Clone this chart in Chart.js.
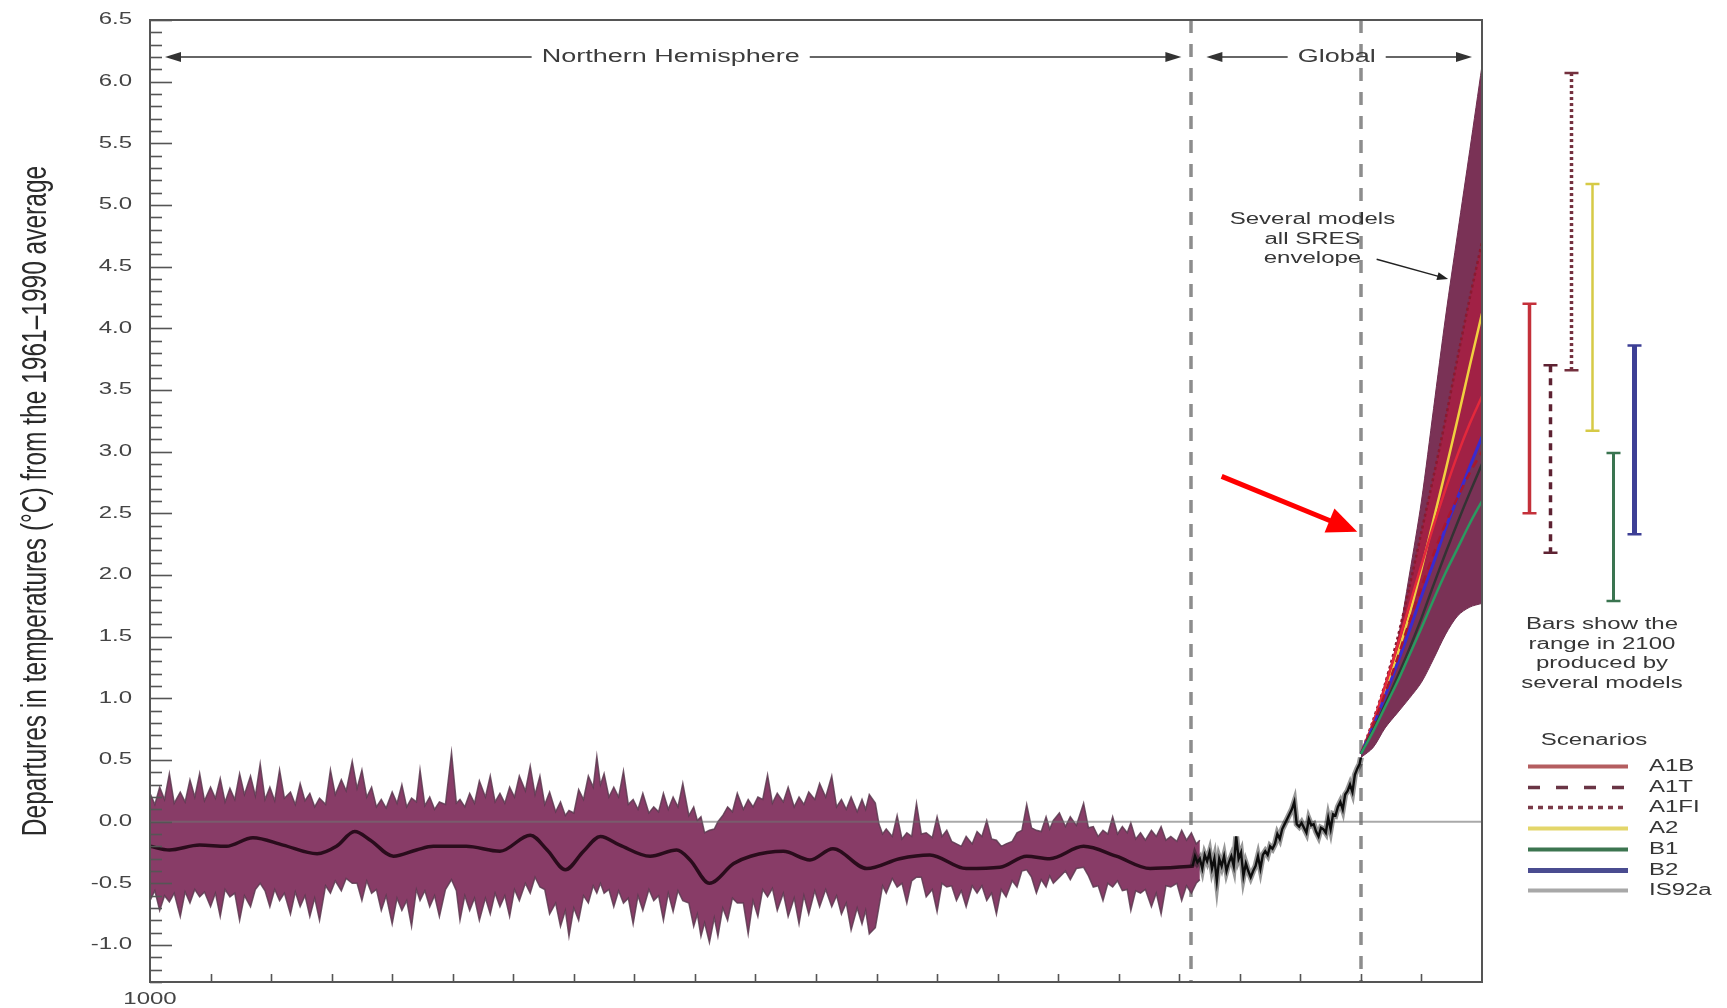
<!DOCTYPE html>
<html>
<head>
<meta charset="utf-8">
<title>Temperature departures 1000–2100</title>
<script src="https://cdn.jsdelivr.net/npm/chart.js@4.4.1/dist/chart.umd.min.js"></script>
<style>
  html, body { margin: 0; padding: 0; background: #fff; overflow: hidden; }
  #wrap { width: 1727px; height: 1008px; position: relative; }
  canvas { display: block; }
</style>
</head>
<body>
<div id="wrap"><canvas id="chart" width="1727" height="1008"></canvas></div>
<script>
// ---------------------------------------------------------------
// Data
// ---------------------------------------------------------------
const yTickLabels = ['-1.0','-0.5','0.0','0.5','1.0','1.5','2.0','2.5','3.0','3.5','4.0','4.5','5.0','5.5','6.0','6.5'];
const xTickLabels = ['1000'];
const dividerYears = [1860, 2000];
const regions = [['Northern Hemisphere', 1000, 1860], ['Global', 1860, 2100]];

// Northern Hemisphere reconstruction: uncertainty range, outer excursions
const bandYears = [1000,1008,1016,1025,1033,1041,1050,1058,1066,1074,1083,1091,1099,1107,1116,1124,1132,1140,1149,1158,
  1167,1175,1183,1191,1200,1208,1216,1223,1231,1239,1249,1256,1264,1272,1281,1289,1297,1305,1314,1322,
  1330,1339,1346,1354,1362,1369,1375,1383,1391,1399,1407,1416,1424,1432,1440,1449,1455,1462,1469,1477,
  1485,1494,1502,1510,1518,1527,1536,1544,1553,1563,1571,1579,1588,1594,1599,1602,1608,1617,1625,1633,
  1641,1650,1658,1666,1674,1683,1691,1699,1707,1716,1724,1732,1740,1746,1751,1760,1771,1779,1787,1795,
  1803,1810,1818,1827,1835,1843,1852,1860,1867];
const bandUpper = [0.23,0.28,0.39,0.24,0.34,0.39,0.28,0.35,0.27,0.39,0.37,0.47,0.28,0.42,0.24,0.31,0.23,0.19,0.42,0.34,
  0.49,0.42,0.28,0.18,0.24,0.30,0.19,0.42,0.20,0.16,0.56,0.18,0.23,0.33,0.37,0.23,0.28,0.37,0.45,0.37,
  0.24,0.16,0.09,0.26,0.37,0.53,0.39,0.28,0.41,0.18,0.23,0.12,0.23,0.20,0.31,0.12,0.04,-0.07,0.00,0.12,
  0.23,0.18,0.20,0.38,0.23,0.28,0.20,0.24,0.31,0.37,0.18,0.20,0.18,0.22,0.15,-0.02,-0.06,0.05,-0.09,0.15,
  -0.09,0.04,-0.07,-0.18,-0.12,-0.08,0.01,-0.15,-0.18,-0.09,0.14,-0.07,0.04,0.01,0.07,0.04,0.15,-0.04,-0.07,0.04,
  -0.04,-0.01,-0.09,-0.07,-0.04,-0.12,-0.07,-0.09,-0.15];
const bandLower = [-0.64,-0.72,-0.65,-0.77,-0.66,-0.61,-0.69,-0.77,-0.61,-0.80,-0.69,-0.50,-0.69,-0.64,-0.75,-0.69,-0.77,-0.80,-0.58,-0.56,
  -0.50,-0.64,-0.58,-0.72,-0.83,-0.72,-0.85,-0.64,-0.69,-0.77,-0.47,-0.80,-0.72,-0.80,-0.75,-0.69,-0.77,-0.64,-0.58,-0.53,
  -0.75,-0.85,-0.93,-0.80,-0.66,-0.58,-0.58,-0.69,-0.66,-0.83,-0.72,-0.64,-0.80,-0.73,-0.64,-0.85,-0.93,-0.98,-0.93,-0.80,
  -0.66,-0.91,-0.77,-0.61,-0.72,-0.77,-0.83,-0.75,-0.69,-0.69,-0.75,-0.88,-0.83,-0.91,-0.86,-0.69,-0.58,-0.53,-0.66,-0.45,
  -0.61,-0.73,-0.53,-0.64,-0.69,-0.58,-0.64,-0.75,-0.61,-0.53,-0.39,-0.58,-0.53,-0.50,-0.45,-0.47,-0.37,-0.53,-0.64,-0.53,
  -0.56,-0.72,-0.58,-0.69,-0.75,-0.53,-0.64,-0.58,-0.47];

// Northern Hemisphere reconstruction: uncertainty range, between the excursions
const bandInnerYears = [1004,1012,1020,1029,1037,1045,1054,1062,1070,1078,1087,1095,1103,1111,1120,1128,1136,1145,1153,1162,
  1171,1179,1187,1195,1204,1212,1220,1227,1235,1244,1253,1260,1268,1277,1285,1293,1301,1310,1318,1326,
  1335,1343,1350,1358,1366,1372,1379,1387,1395,1403,1412,1420,1428,1436,1445,1452,1458,1466,1473,1481,
  1490,1498,1506,1514,1523,1532,1540,1549,1558,1567,1575,1584,1591,1605,1613,1621,1629,1637,1646,1654,
  1662,1670,1679,1687,1695,1703,1712,1720,1728,1736,1743,1756,1765,1775,1783,1791,1799,1807,1814,1822,
  1831,1839,1848,1856,1864];
const bandInnerUpper = [0.14,0.18,0.15,0.16,0.20,0.17,0.19,0.16,0.18,0.22,0.21,0.18,0.17,0.19,0.14,0.17,0.12,0.14,0.22,0.25,
  0.27,0.20,0.12,0.11,0.15,0.12,0.16,0.13,0.10,0.14,0.15,0.12,0.15,0.20,0.16,0.15,0.20,0.25,0.22,0.14,
  0.08,0.05,0.07,0.18,0.28,0.30,0.20,0.20,0.14,0.10,0.07,0.08,0.10,0.12,0.05,0.01,-0.09,-0.06,0.05,0.08,
  0.10,0.12,0.18,0.15,0.16,0.12,0.14,0.18,0.20,0.12,0.10,0.08,0.10,-0.10,-0.12,-0.14,-0.12,-0.10,-0.13,-0.12,
  -0.16,-0.20,-0.18,-0.12,-0.14,-0.20,-0.16,-0.07,-0.05,-0.08,-0.06,-0.04,-0.03,-0.05,-0.12,-0.10,-0.10,-0.09,-0.14,-0.15,
  -0.12,-0.15,-0.16,-0.15,-0.18];
const bandInnerLower = [-0.56,-0.60,-0.58,-0.57,-0.55,-0.57,-0.58,-0.55,-0.58,-0.60,-0.55,-0.56,-0.55,-0.58,-0.57,-0.60,-0.62,-0.52,-0.48,-0.46,
  -0.50,-0.48,-0.55,-0.60,-0.62,-0.64,-0.55,-0.56,-0.60,-0.55,-0.56,-0.60,-0.62,-0.62,-0.58,-0.60,-0.55,-0.50,-0.45,-0.55,
  -0.66,-0.72,-0.70,-0.60,-0.52,-0.50,-0.55,-0.56,-0.62,-0.60,-0.55,-0.60,-0.58,-0.56,-0.66,-0.75,-0.82,-0.78,-0.70,-0.62,
  -0.66,-0.64,-0.55,-0.54,-0.58,-0.62,-0.60,-0.56,-0.55,-0.60,-0.66,-0.70,-0.72,-0.52,-0.46,-0.50,-0.48,-0.45,-0.55,-0.50,
  -0.52,-0.56,-0.52,-0.52,-0.58,-0.55,-0.48,-0.40,-0.45,-0.47,-0.44,-0.40,-0.38,-0.44,-0.52,-0.50,-0.48,-0.55,-0.56,-0.55,
  -0.58,-0.52,-0.50,-0.52,-0.50];

// Northern Hemisphere reconstruction: smoothed series
const nhSmoothYears = [1000,1016,1041,1063,1085,1110,1138,1154,1169,1182,1201,1220,1234,1261,1289,1314,1328,1343,1358,1372,
  1388,1413,1435,1446,1462,1482,1496,1523,1545,1564,1592,1619,1644,1674,1702,1724,1743,1771,1798,1826,1862];
const nhSmooth = [-0.20,-0.23,-0.19,-0.20,-0.13,-0.19,-0.26,-0.20,-0.08,-0.15,-0.28,-0.23,-0.20,-0.20,-0.24,-0.11,-0.23,-0.39,-0.24,-0.12,
  -0.19,-0.28,-0.23,-0.31,-0.50,-0.34,-0.28,-0.24,-0.31,-0.22,-0.38,-0.30,-0.27,-0.38,-0.37,-0.28,-0.30,-0.20,-0.28,-0.38,-0.36];

// Global instrumental record
const instYears = [1861,1863,1865,1867,1869,1871,1873,1875,1877,1879,1881,1883,1885,1887,1889,1891,1893,1895,1897,1899,
  1901,1903,1905,1907,1909,1911,1913,1915,1917,1919,1921,1923,1925,1927,1929,1931,1933,1935,1937,1939,
  1941,1943,1945,1947,1949,1951,1953,1955,1957,1959,1961,1963,1965,1967,1969,1971,1973,1975,1977,1979,
  1981,1983,1985,1987,1989,1991,1993,1995,1997,1999,2000];
const instValues = [-0.36,-0.28,-0.33,-0.30,-0.38,-0.27,-0.32,-0.25,-0.38,-0.30,-0.48,-0.30,-0.36,-0.28,-0.40,-0.33,-0.28,-0.36,-0.12,-0.30,
  -0.25,-0.44,-0.34,-0.40,-0.45,-0.40,-0.36,-0.28,-0.38,-0.27,-0.24,-0.27,-0.20,-0.22,-0.18,-0.10,-0.14,-0.06,-0.02,0.02,
  0.06,0.10,0.16,-0.02,-0.04,-0.01,-0.05,-0.09,0.02,-0.03,-0.02,-0.08,-0.12,-0.05,-0.06,-0.09,0.03,-0.06,0.06,0.05,
  0.12,0.16,0.10,0.22,0.25,0.30,0.24,0.38,0.43,0.47,0.52];

// Projections 2000–2100
const projYears = [2000,2010,2020,2030,2040,2050,2060,2070,2080,2090,2100];
const envelopeHigh = [0.55,0.80,1.12,1.45,2.00,2.60,3.35,4.10,4.78,5.45,6.13];
const envelopeLow  = [0.52,0.60,0.76,0.88,1.00,1.13,1.32,1.52,1.67,1.74,1.77];
const scenarioA1FI = [0.55,0.82,1.12,1.48,1.90,2.35,2.80,3.27,3.77,4.25,4.70];
const scenarioA2   = [0.55,0.79,1.05,1.35,1.68,2.05,2.45,2.85,3.27,3.70,4.12];
const scenarioA1B  = [0.55,0.80,1.10,1.42,1.75,2.08,2.40,2.70,2.98,3.23,3.45];
const scenarioB2   = [0.55,0.77,1.02,1.28,1.55,1.83,2.10,2.38,2.63,2.88,3.12];
const scenarioA1T  = [0.55,0.78,1.04,1.32,1.62,1.90,2.17,2.42,2.63,2.83,3.00];
const scenarioIS92a= [0.55,0.74,0.95,1.17,1.40,1.65,1.92,2.18,2.43,2.67,2.90];
const scenarioB1   = [0.55,0.73,0.93,1.13,1.35,1.57,1.80,2.02,2.22,2.42,2.60];

// Range in 2100 produced by several models
const rangeNames = ['A1B','A1T','A1FI','A2','B1','B2'];
const rangeLow   = [2.50, 2.18, 3.66, 3.17, 1.79, 2.33];
const rangeHigh  = [4.20, 3.70, 6.07, 5.17, 2.99, 3.86];

const legendNames = ['A1B','A1T','A1FI','A2','B1','B2','IS92a'];
const envelopeNote = ['Several models', 'all SRES', 'envelope'];
const barsNote = ['Bars show the', 'range in 2100', 'produced by', 'several models'];

// ---------------------------------------------------------------
// Styles
// ---------------------------------------------------------------
const FONT = '"Liberation Sans", Arial, Helvetica, sans-serif';
const SX = 1.5;                 // horizontal stretch of the lettering
const INK = '#363636';

const scenarioStyle = {
  A1B:   { line: '#e3283c', bar: '#c4303a', legend: '#b45e60', dash: [],     barWidth: 3.5, legendWidth: 4 },
  A1T:   { line: '#a8182e', bar: '#5e2232', legend: '#6a3545', dash: [8, 6],  barWidth: 3.5, legendWidth: 3.5, legendDash: [12, 16] },
  A1FI:  { line: '#8a1a30', bar: '#74303e', legend: '#7a3a48', dash: [3, 3],  barWidth: 3.5, legendWidth: 3.5, legendDash: [5, 5] },
  A2:    { line: '#f0d040', bar: '#d6ca46', legend: '#e3d66a', dash: [],     barWidth: 2.5, legendWidth: 4 },
  B1:    { line: '#2a9a60', bar: '#3a7450', legend: '#3c7550', dash: [],     barWidth: 3,   legendWidth: 4 },
  B2:    { line: '#3a2ad0', bar: '#3d3f95', legend: '#4a4c90', dash: [],     barWidth: 5,   legendWidth: 5 },
  IS92a: { line: '#333333', bar: '#999999', legend: '#a8a8a8', dash: [],     barWidth: 3,   legendWidth: 4 }
};

// ---------------------------------------------------------------
// Datasets
// ---------------------------------------------------------------
const pts = (xs, ys) => xs.map((v, i) => ({ x: v, y: ys[i] }));
const byYear = (a, b) => a.x - b.x;
const bandUpperPts = pts(bandYears, bandUpper).concat(pts(bandInnerYears, bandInnerUpper)).sort(byYear);
const bandLowerPts = pts(bandYears, bandLower).concat(pts(bandInnerYears, bandInnerLower)).sort(byYear);

const datasets = [];
function add(ds) {
  datasets.push(Object.assign({ pointRadius: 0, pointHoverRadius: 0, borderWidth: 0, fill: false, tension: 0 }, ds));
  return datasets.length - 1;
}

const iBandUp = add({ label: 'NH range upper', data: bandUpperPts,
  borderColor: 'rgba(92,58,80,0.85)', borderWidth: 1.5, backgroundColor: 'rgb(136,60,103)', order: 30 });
const iBandLow = add({ label: 'NH range lower', data: bandLowerPts,
  borderColor: 'rgba(92,58,80,0.85)', borderWidth: 1.5, order: 29 });
datasets[iBandUp].fill = { target: iBandLow };

const iEnvUp = add({ label: 'SRES envelope upper', data: pts(projYears, envelopeHigh),
  borderColor: 'rgba(110,45,78,1)', borderWidth: 1, backgroundColor: 'rgb(122,50,86)', tension: 0.3, order: 28 });
const iEnvLow = add({ label: 'SRES envelope lower', data: pts(projYears, envelopeLow),
  borderColor: 'rgba(110,45,78,1)', borderWidth: 1, tension: 0.3, order: 27 });
datasets[iEnvUp].fill = { target: iEnvLow };

add({ label: 'zero', data: [{ x: 1000, y: 0 }, { x: 2100, y: 0 }],
  borderColor: 'rgba(112,112,112,0.6)', borderWidth: 2, order: 25 });

const scenarioSeries = { A1FI: scenarioA1FI, A2: scenarioA2, A1B: scenarioA1B, B2: scenarioB2,
  A1T: scenarioA1T, IS92a: scenarioIS92a, B1: scenarioB1 };
const scenarioIdx = {};
let ord = 20;
Object.keys(scenarioSeries).forEach(name => {
  const st = scenarioStyle[name];
  scenarioIdx[name] = add({ label: name, data: pts(projYears, scenarioSeries[name]),
    borderColor: st.line, borderWidth: name === 'B2' ? 3 : 2.5, borderDash: st.dash,
    tension: 0.3, order: ord-- });
});
// red core of the envelope between the high and middle scenarios
datasets[scenarioIdx.A1FI].fill = { target: scenarioIdx.B2 };
datasets[scenarioIdx.A1FI].backgroundColor = 'rgba(168,30,66,0.85)';
datasets[scenarioIdx.A1FI].order = 26;

add({ label: 'instrumental halo', data: pts(instYears, instValues),
  borderColor: 'rgba(25,25,25,0.45)', borderWidth: 6, order: 6 });
add({ label: 'Global instrumental', data: pts(instYears, instValues),
  borderColor: '#0d0d0d', borderWidth: 2.4, order: 4 });
add({ label: 'NH smoothed', data: pts(nhSmoothYears, nhSmooth),
  borderColor: '#2a0c1c', borderWidth: 3.5, cubicInterpolationMode: 'monotone', order: 5 });

// ---------------------------------------------------------------
// Drawing helpers
// ---------------------------------------------------------------
function text(ctx, str, x, y, size, opts = {}) {
  ctx.save();
  ctx.font = `${opts.weight || 'normal'} ${size}px ${FONT}`;
  ctx.fillStyle = opts.color || INK;
  ctx.textAlign = opts.align || 'center';
  ctx.textBaseline = opts.baseline || 'middle';
  ctx.translate(x, y);
  ctx.scale(opts.sx || SX, 1);
  ctx.fillText(str, 0, 0);
  ctx.restore();
}
function textWidth(ctx, str, size) {
  ctx.save();
  ctx.font = `normal ${size}px ${FONT}`;
  const w = ctx.measureText(str).width * SX;
  ctx.restore();
  return w;
}
function arrow(ctx, x0, y0, x1, y1, head, half, color, width) {
  const a = Math.atan2(y1 - y0, x1 - x0);
  const c = Math.cos(a), s = Math.sin(a);
  const bx = x1 - c * head, by = y1 - s * head;
  ctx.save();
  ctx.strokeStyle = color; ctx.fillStyle = color; ctx.lineWidth = width; ctx.setLineDash([]);
  ctx.beginPath(); ctx.moveTo(x0, y0); ctx.lineTo(bx + c * 2, by + s * 2); ctx.stroke();
  ctx.beginPath();
  ctx.moveTo(x1, y1);
  ctx.lineTo(bx + s * half, by - c * half);
  ctx.lineTo(bx - s * half, by + c * half);
  ctx.closePath(); ctx.fill();
  ctx.restore();
}

// ---------------------------------------------------------------
// Frame, axes, annotations, range bars and legend
// ---------------------------------------------------------------
const decor = {
  id: 'decor',
  beforeDatasetsDraw(chart) {
    const { ctx, chartArea: a, scales: { x } } = chart;
    ctx.save();
    ctx.strokeStyle = '#8d8d8d';
    ctx.lineWidth = 3.5;
    ctx.setLineDash([13, 11]);
    dividerYears.forEach(yr => {
      const px = Math.round(x.getPixelForValue(yr));
      ctx.beginPath(); ctx.moveTo(px, a.top); ctx.lineTo(px, a.bottom); ctx.stroke();
    });
    ctx.restore();
  },
  afterDatasetsDraw(chart) {
    const { ctx, chartArea: a, scales: { x, y } } = chart;

    // frame
    ctx.save();
    ctx.strokeStyle = '#555';
    ctx.lineWidth = 2;
    ctx.strokeRect(a.left, a.top, a.right - a.left, a.bottom - a.top);

    // y ticks (inward): minor every 0.1, major every 0.5
    ctx.lineWidth = 1.6;
    ctx.strokeStyle = '#555';
    for (let k = Math.ceil(y.min * 10); k <= Math.floor(y.max * 10); k++) {
      const py = Math.round(y.getPixelForValue(k / 10)) + 0.5;
      const len = (k % 5 === 0) ? 22 : 12;
      ctx.beginPath(); ctx.moveTo(a.left, py); ctx.lineTo(a.left + len, py); ctx.stroke();
    }
    // x ticks (inward) every 50 years
    for (let yr = x.min + 50; yr < x.max; yr += 50) {
      const px = Math.round(x.getPixelForValue(yr)) + 0.5;
      ctx.beginPath(); ctx.moveTo(px, a.bottom); ctx.lineTo(px, a.bottom - 8); ctx.stroke();
    }
    ctx.restore();

    // tick labels
    yTickLabels.forEach(lbl => {
      text(ctx, lbl, a.left - 18, y.getPixelForValue(parseFloat(lbl)), 16, { align: 'right', color: '#444' });
    });
    xTickLabels.forEach(lbl => {
      text(ctx, lbl, x.getPixelForValue(parseFloat(lbl)), a.bottom + 18, 16, { color: '#444' });
    });

    // y axis title
    ctx.save();
    ctx.translate(36, (a.top + a.bottom) / 2);
    ctx.scale(1.45, 1);
    ctx.rotate(-Math.PI / 2);
    ctx.font = `normal 24.5px ${FONT}`;
    ctx.fillStyle = '#2a2a2a';
    ctx.textAlign = 'center';
    ctx.textBaseline = 'middle';
    ctx.fillText('Departures in temperatures (°C) from the 1961–1990 average', 0, 0);
    ctx.restore();

    // period labels with arrows
    const ry = y.getPixelForValue(6.20);
    regions.forEach(([label, from, to]) => {
      const p0 = x.getPixelForValue(from), p1 = x.getPixelForValue(to);
      const cx = (p0 + p1) / 2;
      const tw = textWidth(ctx, label, 18);
      text(ctx, label, cx, ry, 18, { color: '#3c3c3c' });
      arrow(ctx, cx - tw / 2 - 10, ry, p0 + 15, ry, 16, 5, '#333', 1.5);
      arrow(ctx, cx + tw / 2 + 10, ry, p1 - 10, ry, 16, 5, '#333', 1.5);
    });

    // envelope note
    const nx = x.getPixelForValue(1960);
    envelopeNote.forEach((line, i) => {
      text(ctx, line, nx, y.getPixelForValue(4.88) + i * 19.5, 16);
    });
    arrow(ctx, x.getPixelForValue(2013), y.getPixelForValue(4.56),
      x.getPixelForValue(2072), y.getPixelForValue(4.40), 11, 4, '#222', 1.5);

    // red pointer
    arrow(ctx, x.getPixelForValue(1885), y.getPixelForValue(2.80),
      x.getPixelForValue(1997), y.getPixelForValue(2.35), 30, 13, '#ff0000', 5);

    // range bars for 2100
    rangeNames.forEach((name, i) => {
      const st = scenarioStyle[name];
      const bx = Math.round(a.right + 47 + i * 20.9) + 0.5;
      const yTop = y.getPixelForValue(rangeHigh[i]);
      const yBot = y.getPixelForValue(rangeLow[i]);
      ctx.save();
      ctx.strokeStyle = st.bar;
      ctx.lineWidth = st.barWidth;
      ctx.setLineDash(st.dash.length ? (name === 'A1FI' ? [3, 3] : [7, 6]) : []);
      ctx.beginPath(); ctx.moveTo(bx, yTop); ctx.lineTo(bx, yBot); ctx.stroke();
      ctx.setLineDash([]);
      ctx.lineWidth = 2.5;
      ctx.beginPath();
      ctx.moveTo(bx - 7, yTop); ctx.lineTo(bx + 7, yTop);
      ctx.moveTo(bx - 7, yBot); ctx.lineTo(bx + 7, yBot);
      ctx.stroke();
      ctx.restore();
    });

    // note under the bars
    const noteX = a.right + 120;
    barsNote.forEach((line, i) => text(ctx, line, noteX, 625 + i * 19.5, 16));

    // scenario legend
    text(ctx, 'Scenarios', a.right + 112, 741, 16);
    legendNames.forEach((name, i) => {
      const st = scenarioStyle[name];
      const ly = Math.round(766 + i * 20.7) + 0.5;
      ctx.save();
      ctx.strokeStyle = st.legend;
      ctx.lineWidth = st.legendWidth;
      ctx.setLineDash(st.legendDash || []);
      ctx.beginPath(); ctx.moveTo(a.right + 46, ly); ctx.lineTo(a.right + 146, ly); ctx.stroke();
      ctx.restore();
      text(ctx, name, a.right + 167, ly, 16, { align: 'left' });
    });
  }
};

// ---------------------------------------------------------------
// Chart
// ---------------------------------------------------------------
new Chart(document.getElementById('chart'), {
  type: 'line',
  data: { datasets },
  options: {
    responsive: false,
    animation: false,
    devicePixelRatio: 1,
    layout: { autoPadding: false, padding: { left: 150, right: 245, top: 20, bottom: 26 } },
    plugins: { legend: { display: false }, tooltip: { enabled: false } },
    events: [],
    scales: {
      x: { type: 'linear', min: 1000, max: 2100, display: false },
      y: { type: 'linear', min: -1.3, max: 6.5, display: false }
    }
  },
  plugins: [decor]
});
</script>
</body>
</html>
